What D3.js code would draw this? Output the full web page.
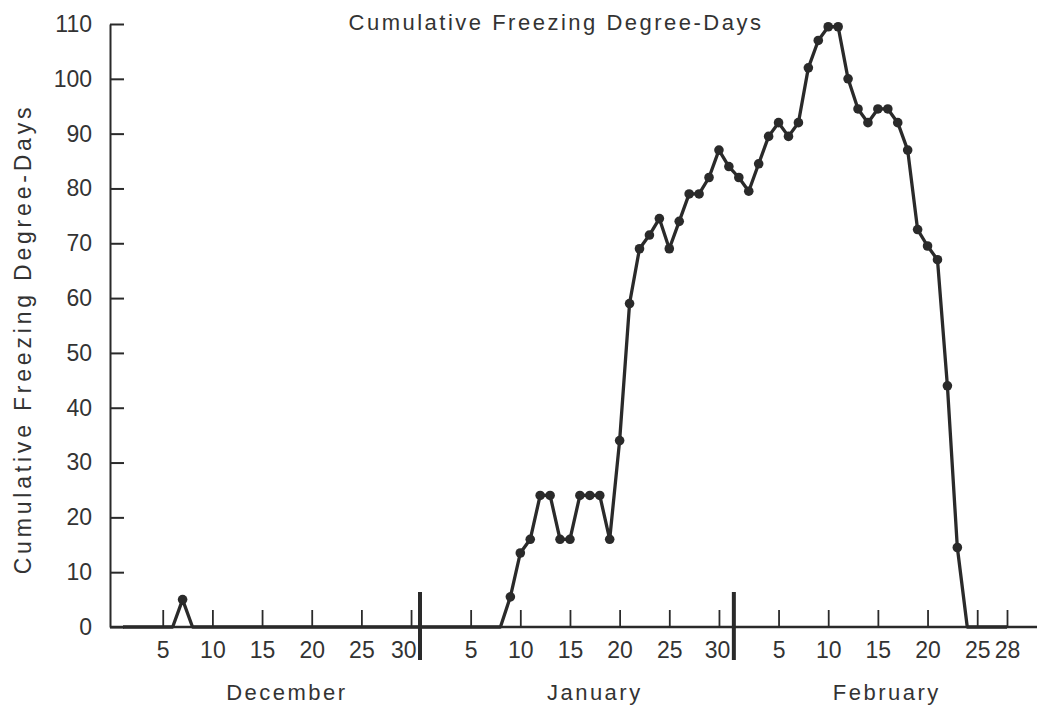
<!DOCTYPE html>
<html>
<head>
<meta charset="utf-8">
<script src="https://cdnjs.cloudflare.com/ajax/libs/d3/7.8.5/d3.min.js"></script>
<style>
  body { margin: 0; background: #fff; }
  .chart text { font-family: "Liberation Sans", Arial, sans-serif; fill: #333; }
</style>
</head>
<body>
<div class="chart"></div>
<script>
// Cumulative freezing degree-days, Dec - Feb

var svgWidth = 1037;
var svgHeight = 706;

var months = ["December", "January", "February"];
var monthDays = [31, 31, 28];

// one value per day of each month
var decValues = [0, 0, 0, 0, 0, 0, 5, 0, 0, 0, 0, 0, 0, 0, 0, 0,
                 0, 0, 0, 0, 0, 0, 0, 0, 0, 0, 0, 0, 0, 0, 0];
var janValues = [0, 0, 0, 0, 0, 0, 0, 0, 5.5, 13.5, 16, 24, 24, 16, 16, 24,
                 24, 24, 16, 34, 59, 69, 71.5, 74.5, 69, 74, 79, 79, 82, 87, 84];
var febValues = [82, 79.5, 84.5, 89.5, 92, 89.5, 92, 102, 107, 109.5, 109.5, 100, 94.5, 92,
                 94.5, 94.5, 92, 87, 72.5, 69.5, 67, 44, 14.5, 0, 0, 0, 0, 0];

var yTicks = [0, 10, 20, 30, 40, 50, 60, 70, 80, 90, 100, 110];
var dayTicks = [
  [5, 10, 15, 20, 25, 30],
  [5, 10, 15, 20, 25, 30],
  [5, 10, 15, 20, 25, 28]
];
// where the heavy month dividers sit (running day number)
var monthBreaks = [30.9, 62.5];

var title = "Cumulative Freezing Degree-Days";
var yLabel = "Cumulative Freezing Degree-Days";

// running day number: Dec 1 = 1, Jan 1 = 32, Feb 1 = 63
var offsets = [0, 31, 62];
var series = [];
[decValues, janValues, febValues].forEach(function(vals, m) {
  vals.forEach(function(v, i) {
    series.push({ t: offsets[m] + i + 1, v: v });
  });
});

var tickIndex = [];
dayTicks.forEach(function(days, m) {
  days.forEach(function(d) { tickIndex.push({ t: offsets[m] + d, day: d, m: m }); });
});

var svg = d3.select(".chart")
  .append("svg")
  .attr("width", svgWidth)
  .attr("height", svgHeight);

var x = d3.scaleLinear().domain([1, 90]).range([123, 1007]);
var y = d3.scaleLinear().domain([0, 110]).range([627, 24]);

var ink = "#2a2a2a";

// y axis, ticks pointing inward
var leftAxis = d3.axisLeft(y)
  .tickValues(yTicks)
  .tickSizeInner(-14)
  .tickSizeOuter(0)
  .tickPadding(18);

var yG = svg.append("g")
  .attr("transform", "translate(110,0)")
  .call(leftAxis);
yG.select(".domain").attr("stroke", ink).attr("stroke-width", 2);
yG.selectAll(".tick line").attr("stroke", ink).attr("stroke-width", 2);
yG.selectAll(".tick text")
  .attr("font-size", 23)
  .attr("fill", "#333")
  .style("font-family", "Liberation Sans, Arial, sans-serif");

// baseline
svg.append("line")
  .attr("x1", 110).attr("x2", svgWidth)
  .attr("y1", y(0)).attr("y2", y(0))
  .attr("stroke", ink)
  .attr("stroke-width", 2.5);

// x ticks (upward) with day labels
var bottomAxis = d3.axisBottom(x)
  .tickValues(tickIndex.map(function(d) { return d.t; }))
  .tickFormat(function(t) {
    var k = tickIndex.find(function(d) { return d.t === t; });
    return k.day;
  })
  .tickSizeInner(-17)
  .tickSizeOuter(0)
  .tickPadding(15);

var xG = svg.append("g")
  .attr("transform", "translate(0," + y(0) + ")")
  .call(bottomAxis);
xG.select(".domain").remove();
xG.selectAll(".tick line").attr("stroke", ink).attr("stroke-width", 1.8);
xG.selectAll(".tick text")
  .attr("font-size", 23)
  .attr("fill", "#333")
  .style("font-family", "Liberation Sans, Arial, sans-serif")
  .each(function(t) {
    // the "30" labels are tucked in left of the month divider
    var k = tickIndex.find(function(d) { return d.t === t; });
    if (k.day === 30 && k.m < 2) {
      d3.select(this)
        .attr("text-anchor", "end")
        .attr("x", x(monthBreaks[k.m]) - x(t) - 4);
    }
  });

// month dividers
svg.selectAll(".break")
  .data(monthBreaks)
  .enter()
  .append("line")
  .attr("class", "break")
  .attr("x1", d => x(d)).attr("x2", d => x(d))
  .attr("y1", 592).attr("y2", 660)
  .attr("stroke", ink)
  .attr("stroke-width", 4);

// month names, centred on each month's labelled ticks
svg.selectAll(".month")
  .data(months)
  .enter()
  .append("text")
  .attr("class", "month")
  .attr("x", function(d, m) {
    var days = dayTicks[m];
    return x(offsets[m] + (days[0] + days[days.length - 1]) / 2) - (m === 2 ? 6 : 0);
  })
  .attr("y", 700)
  .attr("text-anchor", "middle")
  .attr("font-size", 22)
  .attr("letter-spacing", 2.5)
  .text(d => d);

// data line
var line = d3.line()
  .x(d => x(d.t))
  .y(d => y(d.v));

svg.append("path")
  .datum(series)
  .attr("d", line)
  .attr("fill", "none")
  .attr("stroke", ink)
  .attr("stroke-width", 3.3)
  .attr("stroke-linejoin", "round");

svg.selectAll(".pt")
  .data(series.filter(d => d.v > 0))
  .enter()
  .append("circle")
  .attr("class", "pt")
  .attr("cx", d => x(d.t))
  .attr("cy", d => y(d.v))
  .attr("r", 4.8)
  .attr("fill", ink);

// titles
svg.append("text")
  .attr("x", 556)
  .attr("y", 30)
  .attr("text-anchor", "middle")
  .attr("font-size", 22)
  .attr("letter-spacing", 2.5)
  .text(title);

svg.append("text")
  .attr("transform", "translate(31,339) rotate(-90)")
  .attr("text-anchor", "middle")
  .attr("font-size", 23)
  .attr("letter-spacing", 3.8)
  .text(yLabel);
</script>
</body>
</html>
